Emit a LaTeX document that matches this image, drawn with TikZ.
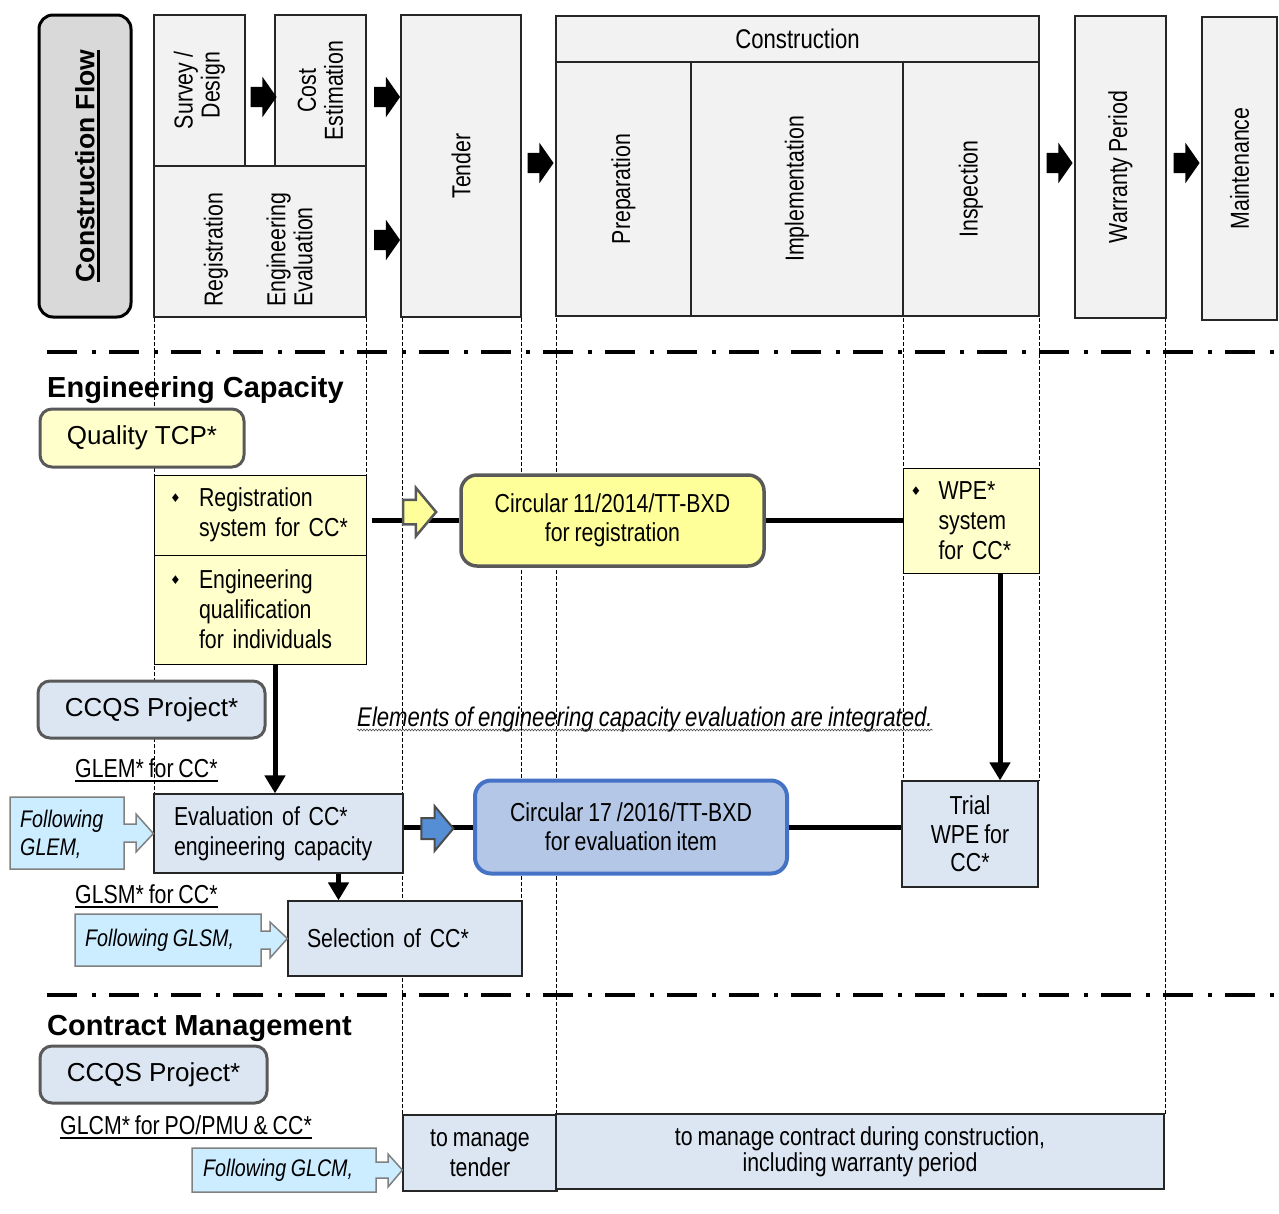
\documentclass[tikz,border=0pt]{standalone}
\usepackage{fontspec}
\setmainfont{Liberation Sans}
\newfontfamily\narrowsans[FakeStretch=0.82, WordSpace=0.82]{Liberation Sans}
\newfontfamily\symbolsans{DejaVu Sans}
\usetikzlibrary{shapes.arrows,arrows.meta,decorations.pathmorphing}

\definecolor{phasegray}{HTML}{F2F2F2}
\definecolor{flowgray}{HTML}{D9D9D9}
\definecolor{paleyellow}{HTML}{FFFFCC}
\definecolor{lemon}{HTML}{FFFF99}
\definecolor{paleblue}{HTML}{DCE6F2}
\definecolor{midblue}{HTML}{B4C7E7}
\definecolor{frameblue}{HTML}{4472C4}
\definecolor{arrowblue}{HTML}{558ED5}
\definecolor{skyblue}{HTML}{CCECFF}
\definecolor{darkgray}{HTML}{595959}

\newcommand{\bodyfont}{\narrowsans\fontsize{26}{30}\selectfont}
\newcommand{\phasefont}{\narrowsans\fontsize{26}{27}\selectfont}
\newcommand{\headfont}{\fontsize{29}{32}\selectfont\bfseries}
\newcommand{\notefont}{\narrowsans\itshape\fontsize{24}{28}\selectfont}
\newcommand{\diabullet}{\raisebox{4pt}{\symbolsans\fontsize{12}{12}\selectfont ♦}}

\begin{document}
\begin{tikzpicture}[x=1pt, y=-1pt, >={Triangle[length=18pt,width=20pt]}]
        \tikzstyle{phase}=[draw=black!85, fill=phasegray, line width=1.3, inner sep=0, font=\phasefont]
        \tikzstyle{upright}=[phase, align=center]
        \tikzstyle{sideways}=[phase, rotate=90, align=center]
        \tikzstyle{flowarrow}=[single arrow, fill=black, inner xsep=0, inner ysep=10, minimum height=26, single arrow head extend=10, single arrow tip angle=110]
        \tikzstyle{guide}=[line width=0.8, dash pattern=on 4pt off 2pt]
        \tikzstyle{divider}=[line width=4.5, dash pattern=on 30pt off 15pt on 4pt off 13pt]
        \tikzstyle{softbox}=[draw=darkgray, line width=3, rounded corners=12, font=\fontsize{26}{30}\selectfont]
        \tikzstyle{itembox}=[draw=black, line width=1, fill=paleyellow, align=left, font=\bodyfont]
        \tikzstyle{plainbox}=[draw=black!85, line width=1.2, fill=paleblue, font=\bodyfont]
        \tikzstyle{circular}=[rounded corners=16, align=center, font=\narrowsans\fontsize{26}{29}\selectfont]
        \tikzstyle{heavy}=[line width=5]
        \tikzstyle{callout}=[draw=black!50, line width=1.5, fill=skyblue]
        \tikzstyle{note}=[inner sep=0, font=\notefont, align=left]
        \tikzstyle{ulabel}=[inner sep=0, anchor=base west, font=\bodyfont]

        \useasboundingbox (0,0) rectangle (1279,1213);

        \draw[guide] (154,318) -- (154,794);
        \draw[guide] (366,318) -- (366,664);
        \draw[guide] (402,318) -- (402,1115);
        \draw[guide] (521,318) -- (521,901);
        \draw[guide] (556,318) -- (556,1114);
        \draw[guide] (903,318) -- (903,781);
        \draw[guide] (1039,318) -- (1039,781);
        \draw[guide] (1165,318) -- (1165,1114);

        \draw[divider] (47,352) -- (1279,352);
        \draw[divider] (47,995) -- (1279,995);

        \node[draw, line width=3, fill=flowgray, rounded corners=14, minimum width=92, minimum height=302] (flow) at (85,166) {};
        \node[rotate=90, inner sep=0, font=\fontsize{26.5}{30}\selectfont\bfseries] (flowtitle) at (85,166) {Construction Flow};
        \draw[line width=2.5] ([xshift=3.5]flowtitle.south west) -- ([xshift=3.5]flowtitle.south east);

        \node[sideways, minimum width=151, minimum height=91, align=right] (survey) at (199.5,90.5) {Survey /\\Design};
        \node[sideways, minimum width=151, minimum height=91] (cost) at (320.5,90.5) {Cost\\Estimation};
        \node[sideways, minimum width=151, minimum height=212] (regeval) at (260,241.5) {};
        \node[rotate=90, anchor=west, inner sep=0, font=\phasefont] (regtext) at (216,307) {Registration};
        \node[rotate=90, anchor=west, inner sep=0, font=\phasefont, align=left] (evaltext) at (289.5,307) {Engineering\\Evaluation};
        \node[sideways, minimum width=302, minimum height=120] (tender) at (461,166) {Tender};
        \node[upright, minimum width=483, minimum height=46, font=\narrowsans\fontsize{27}{30}\selectfont] (constr) at (797.5,39) {\raisebox{-2pt}{Construction}};
        \node[sideways, minimum width=254, minimum height=135] (prep) at (623.5,189) {Preparation};
        \node[sideways, minimum width=254, minimum height=212] (impl) at (797,189) {Implementation};
        \node[sideways, minimum width=254, minimum height=136] (insp) at (971,189) {Inspection};
        \node[sideways, minimum width=302, minimum height=91] (warranty) at (1120.5,167) {Warranty Period};
        \node[sideways, minimum width=303, minimum height=75] (maint) at (1239.5,168.5) {Maintenance};

        \node[flowarrow] (fa1) at (260,97) {};
        \node[flowarrow] (fa2) at (383.5,97) {};
        \node[flowarrow] (fa3) at (383.5,240) {};
        \node[flowarrow] (fa4) at (537,163) {};
        \node[flowarrow] (fa5) at (1056,163) {};
        \node[flowarrow] (fa6) at (1183,163) {};

        \node[ulabel, font=\headfont] (engcap) at (47,397) {Engineering Capacity};
        \node[softbox, fill=paleyellow, minimum width=204, minimum height=58] (quality) at (142,438) {Quality TCP*};
        \node[itembox, text width=180, inner xsep=16, minimum height=80] (regsys) at (260,515) {\makebox[29pt][l]{\diabullet}Registration\\\hspace*{29pt}system for CC*};
        \node[itembox, text width=180, inner xsep=16, minimum height=109] (qualind) at (260,609.5) {\makebox[29pt][l]{\diabullet}Engineering\\\hspace*{29pt}qualification\\\hspace*{29pt}for individuals};
        \node[circular, draw=darkgray, line width=3.5, fill=lemon, minimum width=303, minimum height=91] (circ11) at (612.5,520.5) {Circular 11/2014/TT-BXD\\for registration};
        \node[itembox, text width=121, inner xsep=7.5, minimum height=105] (wpe) at (971,520.5) {\makebox[28pt][l]{\diabullet}WPE*\\\hspace*{28pt}system\\\hspace*{28pt}for CC*};

        \coordinate (regout) at (372,520.5);
        \draw[heavy] (regout) -- (circ11.west);
        \draw[heavy] (circ11.east) -- (wpe.west);
        \node[single arrow, draw=darkgray, line width=2.5, fill=lemon, inner xsep=0, inner ysep=11, minimum height=33, single arrow head extend=12, single arrow tip angle=100] (yarrow) at (414.5,512) {};

        \node[inner sep=0, font=\narrowsans\itshape\fontsize{27}{30}\selectfont] (elements) at (645,720) {Elements of engineering capacity evaluation are integrated.};
        \draw[black!70, line width=0.6, decorate, decoration={snake, amplitude=0.9, segment length=3}] ([yshift=-3]elements.base west) -- ([yshift=-3]elements.base east);

        \node[softbox, fill=paleblue, minimum width=227, minimum height=57] (ccqs) at (151.5,709.5) {CCQS Project*};
        \node[ulabel] (glem) at (75,777) {GLEM* for CC*};
        \draw[line width=2] ([yshift=-3.5]glem.base west) -- ([yshift=-3.5]glem.base east);

        \node[plainbox, text width=209, inner xsep=20, align=left, minimum height=79] (eval) at (278.5,833.5) {Evaluation of CC*\\engineering capacity};
        \draw[callout] (10,797) -- (124,797) -- (124,824) -- (136,824) -- (136,814) -- (eval.west) -- (136,852) -- (136,842) -- (124,842) -- (124,869) -- (10,869) -- cycle;
        \node[note, anchor=west] (fglem) at (20,834) {Following\\GLEM,};

        \node[circular, draw=frameblue, line width=4, fill=midblue, minimum width=312, minimum height=93] (circ17) at (631,827) {Circular 17 /2016/TT-BXD\\for evaluation item};
        \node[plainbox, align=center, minimum width=136, minimum height=106, font=\narrowsans\fontsize{26}{28.5}\selectfont] (trial) at (970,834) {Trial\\WPE for\\CC*};
        \draw[heavy] (circ17.west -| eval.east) -- (circ17.west);
        \draw[heavy] (circ17.east) -- (circ17.east -| trial.west);
        \node[single arrow, draw=black!70, line width=2, fill=arrowblue, inner xsep=0, inner ysep=9.5, minimum height=32, single arrow head extend=12, single arrow tip angle=100] (barrow) at (433,828.5) {};

        \draw[heavy,->] ([xshift=15]qualind.south) -- ([xshift=-3.5]eval.north);
        \draw[heavy,->] ([xshift=29]wpe.south) -- ([xshift=30]trial.north);

        \node[ulabel] (glsm) at (75,903) {GLSM* for CC*};
        \draw[line width=2] ([yshift=-4]glsm.base west) -- ([yshift=-4]glsm.base east);
        \node[plainbox, text width=196, inner xsep=19, align=left, minimum height=75] (sel) at (405,938.5) {Selection of CC*};
        \draw[heavy,->] ([xshift=60]eval.south) -- ([xshift=60]eval.south |- sel.north);
        \draw[callout] (75,914) -- (261,914) -- (261,931) -- (270,931) -- (270,922) -- (sel.west) -- (270,958) -- (270,949) -- (261,949) -- (261,966) -- (75,966) -- cycle;
        \node[note, anchor=west] (fglsm) at (85,940) {Following GLSM,};

        \node[ulabel, font=\headfont] (contract) at (47,1035) {Contract Management};
        \node[softbox, fill=paleblue, minimum width=227, minimum height=57] (ccqsb) at (153.5,1074.5) {CCQS Project*};
        \node[ulabel] (glcm) at (60,1134) {GLCM* for PO/PMU \& CC*};
        \draw[line width=2] ([yshift=-3.5]glcm.base west) -- ([yshift=-3.5]glcm.base east);

        \node[plainbox, align=center, minimum width=154, minimum height=76] (tendm) at (480,1153) {to manage\\tender};
        \node[plainbox, align=center, minimum width=608, minimum height=75, font=\narrowsans\fontsize{26}{26}\selectfont] (contm) at (860,1151.5) {to manage contract during construction,\\including warranty period};
        \draw[callout] (192,1148) -- (376,1148) -- (376,1162) -- (388,1162) -- (388,1154) -- ([yshift=-17]tendm.west) -- (388,1187) -- (388,1178) -- (376,1178) -- (376,1192) -- (192,1192) -- cycle;
        \node[note, anchor=west] (fglcm) at (203,1170) {Following GLCM,};

        \end{tikzpicture}
\end{document}
